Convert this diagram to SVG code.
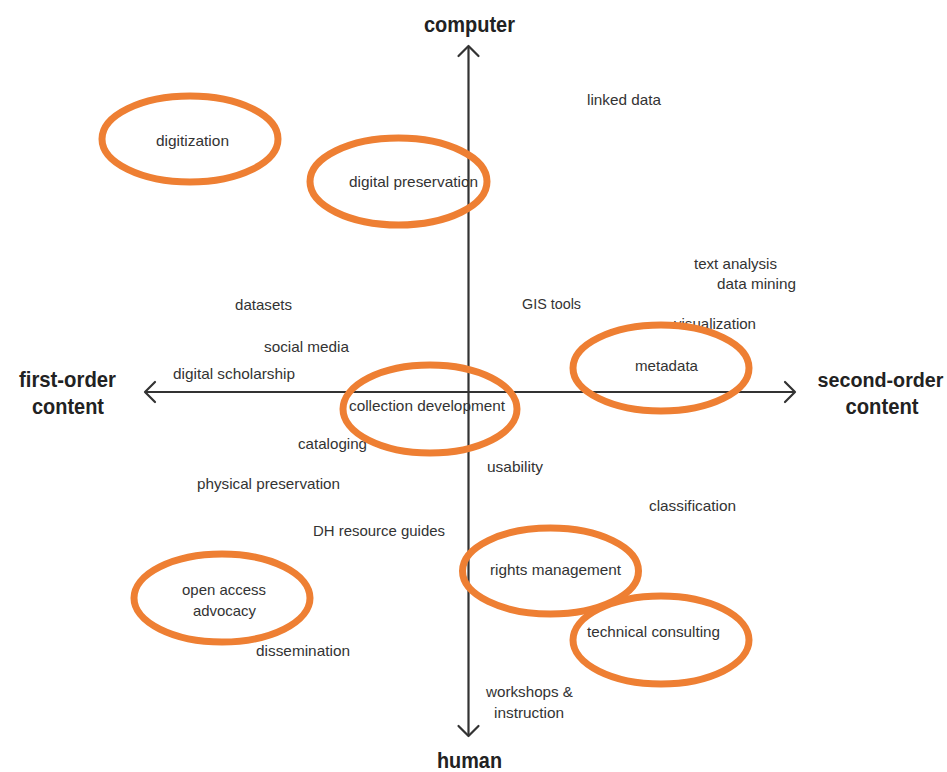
<svg xmlns="http://www.w3.org/2000/svg" width="947" height="772" viewBox="0 0 947 772">
<style>
.t{font-family:"Liberation Sans Narrow","Liberation Sans",Arial,sans-serif;font-size:15px;fill:#333;text-anchor:middle}
.b{font-family:"Liberation Sans Narrow","Liberation Sans",Arial,sans-serif;font-size:22px;font-weight:bold;fill:#222;text-anchor:middle}
.ax{stroke:#333;stroke-width:2.2;fill:none}
.ah{stroke:#333;stroke-width:2.2;fill:none;stroke-linecap:round;stroke-linejoin:round}
.o{fill:none;stroke:#EE7F33;stroke-width:7}
</style>
<rect width="947" height="772" fill="#fff"/>
<g id="labels">
<text class="b" x="469.5" y="32" textLength="91" lengthAdjust="spacingAndGlyphs">computer</text>
<text class="b" x="67.5" y="387" textLength="97" lengthAdjust="spacingAndGlyphs">first-order</text>
<text class="b" x="68" y="414" textLength="72" lengthAdjust="spacingAndGlyphs">content</text>
<text class="b" x="880.5" y="387" style="font-size:20px" textLength="126" lengthAdjust="spacingAndGlyphs">second-order</text>
<text class="b" x="882" y="414" textLength="73" lengthAdjust="spacingAndGlyphs">content</text>
<text class="b" x="469.5" y="768" textLength="65" lengthAdjust="spacingAndGlyphs">human</text>
</g>
<g id="items">
<text class="t" x="624" y="105" textLength="74" lengthAdjust="spacingAndGlyphs">linked data</text>
<text class="t" x="192.5" y="146" textLength="73" lengthAdjust="spacingAndGlyphs">digitization</text>
<text class="t" x="413.5" y="187" textLength="129" lengthAdjust="spacingAndGlyphs">digital preservation</text>
<text class="t" x="735.5" y="269" textLength="83" lengthAdjust="spacingAndGlyphs">text analysis</text>
<text class="t" x="756.5" y="289" textLength="79" lengthAdjust="spacingAndGlyphs">data mining</text>
<text class="t" x="263.5" y="310" textLength="57" lengthAdjust="spacingAndGlyphs">datasets</text>
<text class="t" x="551.5" y="309" textLength="59" lengthAdjust="spacingAndGlyphs">GIS tools</text>
<text class="t" x="715" y="329" textLength="82" lengthAdjust="spacingAndGlyphs">visualization</text>
<text class="t" x="306.5" y="352" textLength="85" lengthAdjust="spacingAndGlyphs">social media</text>
<text class="t" x="666.5" y="371" textLength="63" lengthAdjust="spacingAndGlyphs">metadata</text>
<text class="t" x="234" y="379" textLength="122" lengthAdjust="spacingAndGlyphs">digital scholarship</text>
<text class="t" x="427" y="411" textLength="156" lengthAdjust="spacingAndGlyphs">collection development</text>
<text class="t" x="332.5" y="449" textLength="69" lengthAdjust="spacingAndGlyphs">cataloging</text>
<text class="t" x="515" y="472" textLength="56" lengthAdjust="spacingAndGlyphs">usability</text>
<text class="t" x="268.5" y="489" textLength="143" lengthAdjust="spacingAndGlyphs">physical preservation</text>
<text class="t" x="692.5" y="511" textLength="87" lengthAdjust="spacingAndGlyphs">classification</text>
<text class="t" x="379" y="536" textLength="132" lengthAdjust="spacingAndGlyphs">DH resource guides</text>
<text class="t" x="555.5" y="575" textLength="131" lengthAdjust="spacingAndGlyphs">rights management</text>
<text class="t" x="224" y="595" textLength="84" lengthAdjust="spacingAndGlyphs">open access</text>
<text class="t" x="224.5" y="616" textLength="63" lengthAdjust="spacingAndGlyphs">advocacy</text>
<text class="t" x="653.5" y="637" textLength="133" lengthAdjust="spacingAndGlyphs">technical consulting</text>
<text class="t" x="303" y="656" textLength="94" lengthAdjust="spacingAndGlyphs">dissemination</text>
<text class="t" x="529.5" y="697" textLength="87" lengthAdjust="spacingAndGlyphs">workshops &amp;</text>
<text class="t" x="529" y="718" textLength="70" lengthAdjust="spacingAndGlyphs">instruction</text>
</g>
<g id="axes">
<line class="ax" x1="468.5" y1="46" x2="468.5" y2="736"/>
<line class="ax" x1="145" y1="392" x2="795" y2="392"/>
<polyline class="ah" points="458.5,56 468.5,46 478.5,56"/>
<polyline class="ah" points="458.5,726 468.5,736 478.5,726"/>
<polyline class="ah" points="155,382 145,392 155,402"/>
<polyline class="ah" points="785,382 795,392 785,402"/>
</g>
<g id="highlights">
<ellipse class="o" cx="190" cy="139" rx="88" ry="43"/>
<ellipse class="o" cx="398.5" cy="181.5" rx="88.5" ry="43.5"/>
<ellipse class="o" cx="661" cy="368" rx="88" ry="43"/>
<ellipse class="o" cx="430" cy="409" rx="87" ry="44"/>
<ellipse class="o" cx="550.5" cy="571" rx="88" ry="43"/>
<ellipse class="o" cx="661" cy="640" rx="88" ry="44"/>
<ellipse class="o" cx="222" cy="598" rx="88" ry="44"/>
</g>
</svg>
